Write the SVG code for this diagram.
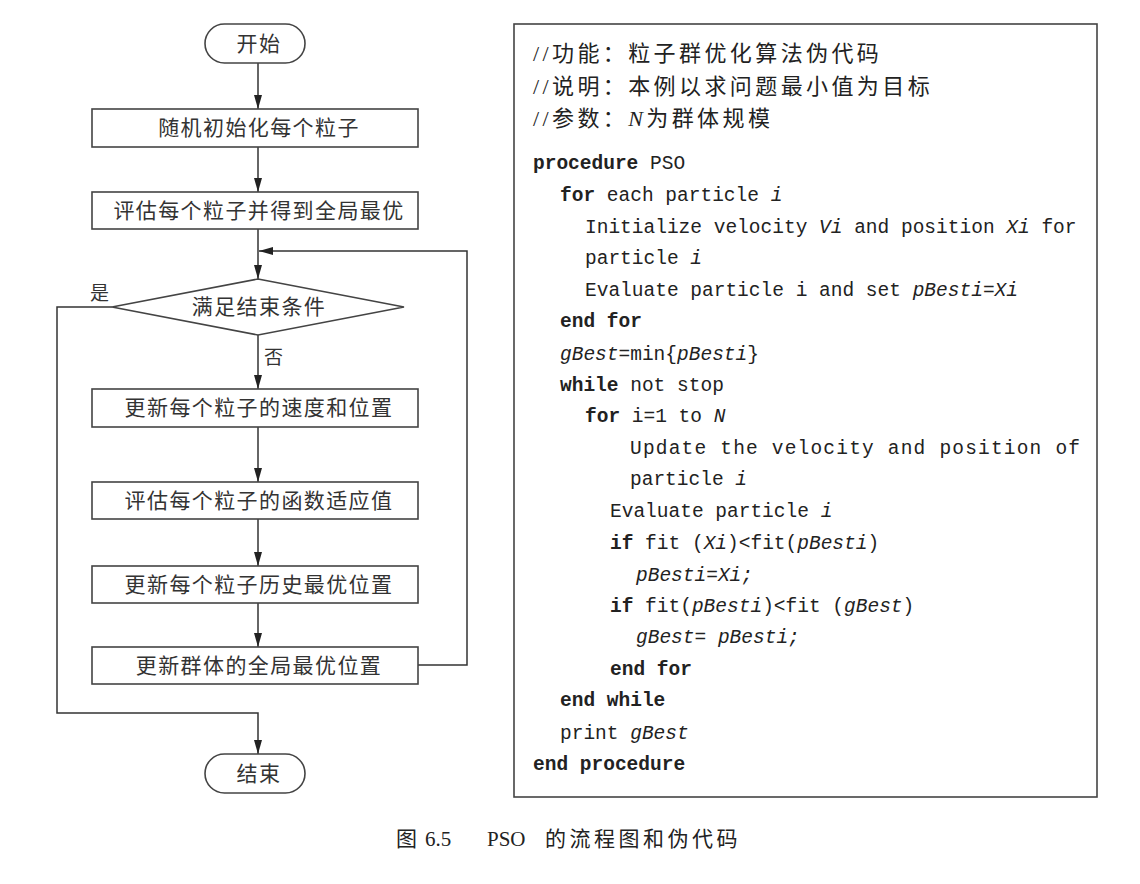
<svg xmlns="http://www.w3.org/2000/svg" width="1140" height="884" viewBox="0 0 1140 884">
<style>
.box{fill:#fff;stroke:#444;stroke-width:1.6}
.ln{fill:none;stroke:#333;stroke-width:1.5}
.fc{font-family:"Liberation Serif","Noto Sans CJK SC",serif;font-size:21px;letter-spacing:1.4px;fill:#333;text-anchor:middle}
.lbl{font-family:"Noto Sans CJK SC",sans-serif;font-size:19px;fill:#333}
.cm{font-family:"Liberation Serif","Noto Sans CJK SC",serif;font-size:22px;letter-spacing:3.4px;fill:#222}
.cd{font-family:"Liberation Mono",monospace;font-size:19.5px;fill:#222}
.b{font-weight:bold}
.i{font-style:italic}
.cap{font-family:"Liberation Serif","Noto Sans CJK SC",serif;font-size:21px;fill:#222}
</style>
<defs>
<marker id="ah" viewBox="0 0 14 8" refX="14" refY="4" markerWidth="14" markerHeight="8" markerUnits="userSpaceOnUse" orient="auto">
<path d="M0,0 L14,4 L0,8 Z" fill="#222"/>
</marker>
</defs>
<rect width="1140" height="884" fill="#fff"/>

<g id="connectors">
<line class="ln" x1="258" y1="63" x2="258" y2="109" marker-end="url(#ah)"/>
<line class="ln" x1="258" y1="147" x2="258" y2="192" marker-end="url(#ah)"/>
<line class="ln" x1="258" y1="229" x2="258" y2="279" marker-end="url(#ah)"/>
<line class="ln" x1="258" y1="335" x2="258" y2="389" marker-end="url(#ah)"/>
<line class="ln" x1="258" y1="427" x2="258" y2="482" marker-end="url(#ah)"/>
<line class="ln" x1="258" y1="519" x2="258" y2="566" marker-end="url(#ah)"/>
<line class="ln" x1="258" y1="603" x2="258" y2="647" marker-end="url(#ah)"/>
<polyline class="ln" points="418,665 467,665 467,251 259,251" marker-end="url(#ah)"/>
<polyline class="ln" points="112,307 57,307 57,713 258,713 258,754" marker-end="url(#ah)"/>
<text class="lbl" x="90" y="300">是</text>
<text class="lbl" x="264" y="364">否</text>
</g>

<g id="start">
<rect class="box" x="205" y="24" width="100" height="39" rx="19.5"/>
<text class="fc" x="259" y="51">开始</text>
</g>
<g id="init">
<rect class="box" x="92" y="109" width="326" height="38"/>
<text class="fc" x="259" y="135">随机初始化每个粒子</text>
</g>
<g id="eval1">
<rect class="box" x="92" y="192" width="326" height="37"/>
<text class="fc" x="259" y="218">评估每个粒子并得到全局最优</text>
</g>
<g id="cond">
<polygon class="box" points="258,279 404,307 258,335 112,307"/>
<text class="fc" x="259" y="314">满足结束条件</text>
</g>
<g id="upd1">
<rect class="box" x="92" y="389" width="326" height="38"/>
<text class="fc" x="259" y="415">更新每个粒子的速度和位置</text>
</g>
<g id="eval2">
<rect class="box" x="92" y="482" width="326" height="37"/>
<text class="fc" x="259" y="508">评估每个粒子的函数适应值</text>
</g>
<g id="upd2">
<rect class="box" x="92" y="566" width="326" height="37"/>
<text class="fc" x="259" y="592">更新每个粒子历史最优位置</text>
</g>
<g id="upd3">
<rect class="box" x="92" y="647" width="326" height="37"/>
<text class="fc" x="259" y="673">更新群体的全局最优位置</text>
</g>
<g id="end">
<rect class="box" x="205" y="754" width="100" height="39" rx="19.5"/>
<text class="fc" x="259" y="781">结束</text>
</g>

<g id="code">
<rect class="box" x="514" y="24" width="583" height="773"/>
<text class="cm" x="533" y="61">//功能：粒子群优化算法伪代码</text>
<text class="cm" x="533" y="94">//说明：本例以求问题最小值为目标</text>
<text class="cm" x="533" y="126">//参数：<tspan class="i">N</tspan>为群体规模</text>
<text class="cd" x="533" y="169"><tspan class="b">procedure</tspan> PSO</text>
<text class="cd" x="560" y="201"><tspan class="b">for</tspan> each particle <tspan class="i">i</tspan></text>
<text class="cd" x="585" y="233">Initialize velocity <tspan class="i">Vi</tspan> and position <tspan class="i">Xi</tspan> for</text>
<text class="cd" x="585" y="264">particle <tspan class="i">i</tspan></text>
<text class="cd" x="585" y="296">Evaluate particle i and set <tspan class="i">pBesti</tspan>=<tspan class="i">Xi</tspan></text>
<text class="cd b" x="560" y="327">end for</text>
<text class="cd" x="560" y="360"><tspan class="i">gBest</tspan>=min{<tspan class="i">pBesti</tspan>}</text>
<text class="cd" x="560" y="391"><tspan class="b">while</tspan> not stop</text>
<text class="cd" x="585" y="422"><tspan class="b">for</tspan> i=1 to <tspan class="i">N</tspan></text>
<text class="cd" x="630" y="454" textLength="450" lengthAdjust="spacing">Update the velocity and position of</text>
<text class="cd" x="630" y="485">particle <tspan class="i">i</tspan></text>
<text class="cd" x="610" y="517">Evaluate particle <tspan class="i">i</tspan></text>
<text class="cd" x="610" y="549"><tspan class="b">if</tspan> fit (<tspan class="i">Xi</tspan>)&lt;fit(<tspan class="i">pBesti</tspan>)</text>
<text class="cd i" x="636" y="581">pBesti=Xi;</text>
<text class="cd" x="610" y="612"><tspan class="b">if</tspan> fit(<tspan class="i">pBesti</tspan>)&lt;fit (<tspan class="i">gBest</tspan>)</text>
<text class="cd i" x="636" y="643">gBest= pBesti;</text>
<text class="cd b" x="610" y="675">end for</text>
<text class="cd b" x="560" y="706">end while</text>
<text class="cd" x="560" y="739">print <tspan class="i">gBest</tspan></text>
<text class="cd b" x="533" y="770">end procedure</text>
</g>

<g id="caption">
<text class="cap" x="396" y="846">图<tspan x="425">6.5</tspan><tspan x="487">PSO</tspan><tspan x="545" letter-spacing="3.5">的流程图和伪代码</tspan></text>
</g>
</svg>
